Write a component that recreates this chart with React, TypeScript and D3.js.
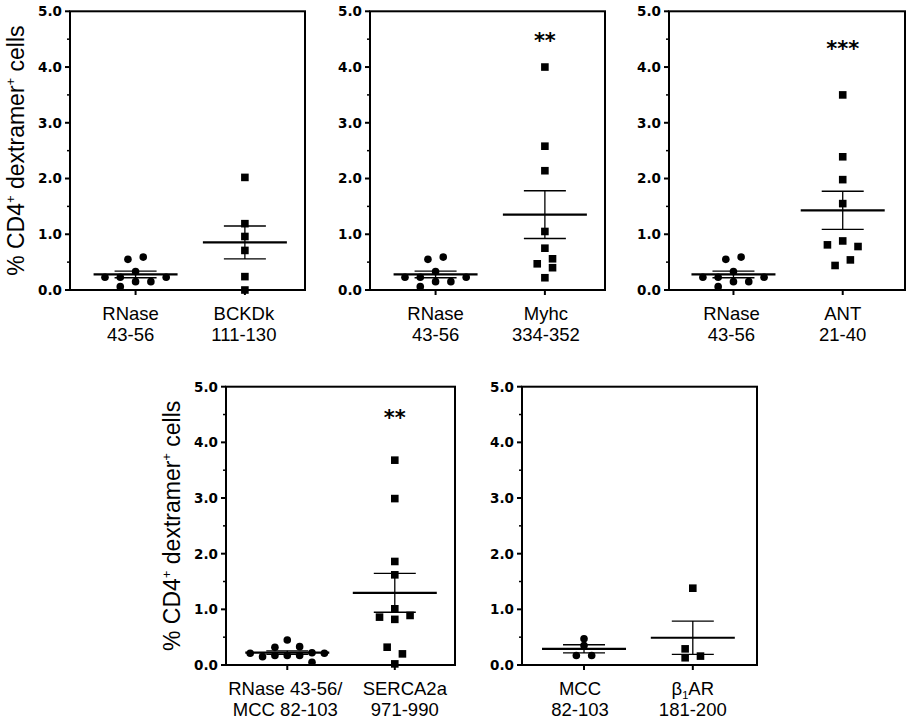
import React from 'react';
import * as d3 from 'd3';

// ---------- data ----------
const yTickValues = [0, 1, 2, 3, 4, 5];
const yMinorValues = [0.5, 1.5, 2.5, 3.5, 4.5];

const rnaseValues = [0.55, 0.59, 0.33, 0.23, 0.23, 0.15, 0.15, 0.23, 0.06];
const rnaseSlots = [-0.5, 0.5, 0, -2, -1, 0, 1, 2, -1];

const bckdkValues = [2.02, 1.19, 0.96, 0.71, 0.24, 0.0];
const bckdkSlots = [0, 0, 0, 0, 0, 0];

const myhcValues = [4.0, 2.58, 2.14, 1.05, 0.75, 0.47, 0.56, 0.4, 0.22];
const myhcSlots = [0, 0, 0, 0, 0, -0.5, 0.5, 0.5, 0];

const antValues = [3.5, 2.39, 1.98, 1.55, 0.81, 0.88, 0.78, 0.54, 0.44];
const antSlots = [0, 0, 0, 0, -1, 0, 1, 0.5, -0.5];

const rnaseMccValues = [0.21, 0.15, 0.32, 0.17, 0.45, 0.17, 0.33, 0.17, 0.22, 0.05, 0.21];
const rnaseMccSlots = [-3, -2, -1, -1, 0, 0, 1, 1, 2, 2, 3];

const sercaValues = [3.68, 2.99, 1.86, 1.62, 1.01, 0.86, 0.82, 0.89, 0.32, 0.2, 0.02];
const sercaSlots = [0, 0, 0, 0, 0, -1, 0, 1, -0.5, 0.5, 0];

const mccValues = [0.47, 0.35, 0.17, 0.17];
const mccSlots = [0, 0, -0.5, 0.5];

const b1arValues = [1.38, 0.29, 0.13, 0.16];
const b1arSlots = [0, -0.5, -0.5, 0.5];

const rnaseLabel = ['RNase', '43-56'];
const bckdkLabel = ['BCKDk', '111-130'];
const myhcLabel = ['Myhc', '334-352'];
const antLabel = ['ANT', '21-40'];
const rnaseMccLabel = ['RNase 43-56/', 'MCC 82-103'];
const sercaLabel = ['SERCA2a', '971-990'];
const mccLabel = ['MCC', '82-103'];
const b1arLabel = ['β1AR', '181-200'];

const starsText = ['', '**', '***', '**', ''];
const starsValue = [0, 4.54, 4.4, 4.52, 0];

// ---------- layout ----------
type Shape = 'circle' | 'square';
interface Group {
  values: number[];
  slots: number[];
  slotWidth: number;
  shape: Shape;
  label: string[];
  labelDx: number;
}
interface Panel {
  left: number;
  width: number;
  top: number;
  bottom: number;
  domain: [number, number];
  groups: Group[];
  yTitle: boolean;
  stars: string;
  starValue: number;
}

const TOP_T = 11.3, TOP_B = 290;
const BOT_T = 386.7, BOT_B = 665;

const rnaseGroup = (labelDx = 0): Group => ({
  values: rnaseValues, slots: rnaseSlots, slotWidth: 0.14, shape: 'circle', label: rnaseLabel, labelDx,
});

const panels: Panel[] = [
  {
    left: 70, width: 235, top: TOP_T, bottom: TOP_B, domain: [0.4, 2.55], yTitle: true,
    stars: starsText[0], starValue: starsValue[0],
    groups: [rnaseGroup(-5), { values: bckdkValues, slots: bckdkSlots, slotWidth: 0.14, shape: 'square', label: bckdkLabel, labelDx: -1 }],
  },
  {
    left: 370, width: 235, top: TOP_T, bottom: TOP_B, domain: [0.4, 2.55], yTitle: false,
    stars: starsText[1], starValue: starsValue[1],
    groups: [rnaseGroup(0), { values: myhcValues, slots: myhcSlots, slotWidth: 0.14, shape: 'square', label: myhcLabel, labelDx: 1 }],
  },
  {
    left: 669, width: 236, top: TOP_T, bottom: TOP_B, domain: [0.41, 2.57], yTitle: false,
    stars: starsText[2], starValue: starsValue[2],
    groups: [rnaseGroup(-2), { values: antValues, slots: antSlots, slotWidth: 0.14, shape: 'square', label: antLabel, labelDx: 0 }],
  },
  {
    left: 226, width: 229, top: BOT_T, bottom: BOT_B, domain: [0.43, 2.56], yTitle: true,
    stars: starsText[3], starValue: starsValue[3],
    groups: [
      { values: rnaseMccValues, slots: rnaseMccSlots, slotWidth: 0.115, shape: 'circle', label: rnaseMccLabel, labelDx: -2 },
      { values: sercaValues, slots: sercaSlots, slotWidth: 0.142, shape: 'square', label: sercaLabel, labelDx: 10 },
    ],
  },
  {
    left: 522, width: 235, top: BOT_T, bottom: BOT_B, domain: [0.43, 2.59], yTitle: false,
    stars: starsText[4], starValue: starsValue[4],
    groups: [
      { values: mccValues, slots: mccSlots, slotWidth: 0.141, shape: 'circle', label: mccLabel, labelDx: -4 },
      { values: b1arValues, slots: b1arSlots, slotWidth: 0.141, shape: 'square', label: b1arLabel, labelDx: 0 },
    ],
  },
];

const TICK_FONT = '"DejaVu Sans", sans-serif';
const LABEL_FONT = '"Liberation Sans", Arial, sans-serif';

function CategoryLabel({ text, x, y }: { text: string; x: number; y: number }) {
  if (text.startsWith('β1')) {
    return (
      <text x={x} y={y} textAnchor="middle" fontFamily={LABEL_FONT} fontSize={18.5} fill="#000">
        β<tspan fontSize={11} dy={4}>1</tspan><tspan dy={-4}>AR</tspan>
      </text>
    );
  }
  return (
    <text x={x} y={y} textAnchor="middle" fontFamily={LABEL_FONT} fontSize={18.5} fill="#000">
      {text}
    </text>
  );
}

function PanelView({ p }: { p: Panel }) {
  const y = d3.scaleLinear().domain([0, 5]).range([p.bottom, p.top]);
  const x = d3.scaleLinear().domain(p.domain).range([p.left, p.left + p.width]);
  const fmt = d3.format('.1f');
  const symCircle = d3.symbol().type(d3.symbolCircle).size(Math.PI * 3.8 * 3.8)();
  const symSquare = d3.symbol().type(d3.symbolSquare).size(7.6 * 7.6)();
  const midY = (p.top + p.bottom) / 2;

  return (
    <g>
      {/* points */}
      {p.groups.map((g, gi) =>
        g.values.map((v, i) => (
          <path
            key={`pt-${gi}-${i}`}
            d={(g.shape === 'circle' ? symCircle : symSquare) as string}
            transform={`translate(${x(gi + 1 + g.slots[i] * g.slotWidth)},${y(v)})`}
            fill="#000"
          />
        ))
      )}
      {/* mean and SEM */}
      {p.groups.map((g, gi) => {
        const m = d3.mean(g.values) as number;
        const sem = (d3.deviation(g.values) as number) / Math.sqrt(g.values.length);
        const cx = x(gi + 1);
        return (
          <g key={`ms-${gi}`} stroke="#000" fill="none">
            <line x1={cx - 42} x2={cx + 42} y1={y(m)} y2={y(m)} strokeWidth={2.2} />
            <line x1={cx} x2={cx} y1={y(m - sem)} y2={y(m + sem)} strokeWidth={1.3} />
            <line x1={cx - 21} x2={cx + 21} y1={y(m + sem)} y2={y(m + sem)} strokeWidth={1.3} />
            <line x1={cx - 21} x2={cx + 21} y1={y(m - sem)} y2={y(m - sem)} strokeWidth={1.3} />
          </g>
        );
      })}
      {/* frame */}
      <rect x={p.left} y={p.top} width={p.width} height={p.bottom - p.top} fill="none" stroke="#000" strokeWidth={2} />
      {/* y ticks */}
      {yTickValues.map((t) => (
        <g key={`yt-${t}`}>
          <line x1={p.left - 5} x2={p.left} y1={y(t)} y2={y(t)} stroke="#000" strokeWidth={2} />
          <text
            x={p.left - 8}
            y={y(t)}
            dy="0.36em"
            textAnchor="end"
            fontFamily={TICK_FONT}
            fontWeight="bold"
            fontSize={13.5}
            fill="#000"
          >
            {fmt(t)}
          </text>
        </g>
      ))}
      {yMinorValues.map((t) => (
        <line key={`ym-${t}`} x1={p.left - 3} x2={p.left} y1={y(t)} y2={y(t)} stroke="#000" strokeWidth={1.5} />
      ))}
      {/* x ticks and category labels */}
      {p.groups.map((g, gi) => (
        <g key={`xt-${gi}`}>
          <line x1={x(gi + 1)} x2={x(gi + 1)} y1={p.bottom} y2={p.bottom + 5} stroke="#000" strokeWidth={2} />
          {g.label.map((l, li) => (
            <CategoryLabel key={li} text={l} x={x(gi + 1) + g.labelDx} y={p.bottom + 29.5 + li * 21.8} />
          ))}
        </g>
      ))}
      {/* stars */}
      {p.stars && (
        <text
          x={x(2)}
          y={y(p.starValue)}
          dy="0.55em"
          textAnchor="middle"
          fontFamily={TICK_FONT}
          fontWeight="bold"
          fontSize={21}
          fill="#000"
        >
          {p.stars}
        </text>
      )}
      {/* y title */}
      {p.yTitle && (
        <text
          transform={`translate(${p.left - 46},${midY}) rotate(-90)`}
          textAnchor="middle"
          fontFamily={LABEL_FONT}
          fontSize={23}
          fill="#000"
        >
          % CD4<tspan fontSize={13} dy={-9}>+</tspan>
          <tspan dy={9}> dextramer</tspan>
          <tspan fontSize={13} dy={-9}>+</tspan>
          <tspan dy={9}> cells</tspan>
        </text>
      )}
    </g>
  );
}

export default function App() {
  return (
    <svg
      width={912}
      height={720}
      viewBox="0 0 912 720"
      style={{ position: 'absolute', left: 0, top: 0, background: '#fff' }}
    >
      <rect x={0} y={0} width={912} height={720} fill="#fff" />
      {panels.map((p, i) => (
        <PanelView key={i} p={p} />
      ))}
    </svg>
  );
}
